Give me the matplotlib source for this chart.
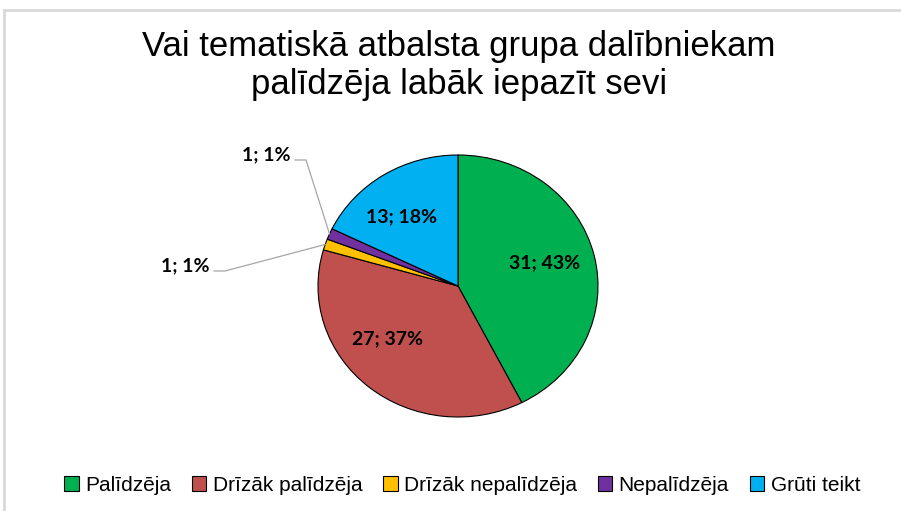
import matplotlib
matplotlib.use("Agg")
import matplotlib.pyplot as plt
from matplotlib.patches import Patch
from matplotlib.lines import Line2D
import numpy as np

# ---- data ----
title_lines = ["Vai tematiskā atbalsta grupa dalībniekam", "palīdzēja labāk iepazīt sevi"]
categories = ["Palīdzēja", "Drīzāk palīdzēja", "Drīzāk nepalīdzēja", "Nepalīdzēja", "Grūti teikt"]
values = [31, 27, 1, 1, 13]
percents = [43, 37, 1, 1, 18]
colors = ["#00B050", "#C0504D", "#FFC000", "#7030A0", "#00B0F0"]

W, H = 901, 511
fig = plt.figure(figsize=(W / 100, H / 100), dpi=100)
fig.patch.set_facecolor("white")

# frame lines (top and left of chart area, as in the cropped reference)
fig.add_artist(Line2D([4 / W, 1.0], [1 - 10 / H, 1 - 10 / H], transform=fig.transFigure,
                      color="#D9D9D9", lw=2.0))
fig.add_artist(Line2D([4 / W, 4 / W], [0, 1 - 10 / H], transform=fig.transFigure,
                      color="#D9D9D9", lw=2.0))

# pie axes (elliptical as in the reference)
cx, cy, rx, ry = 458, 286, 140, 131
ax = fig.add_axes([(cx - rx) / W, (H - cy - ry) / H, 2 * rx / W, 2 * ry / H])
wedges, _ = ax.pie(values, colors=colors, startangle=90, counterclock=False,
                   wedgeprops=dict(edgecolor="black", linewidth=0.8))
ax.set_aspect("auto")
ax.set_xlim(-1, 1)
ax.set_ylim(-1, 1)
ax.axis("off")

labels = [f"{v}; {p}%" for v, p in zip(values, percents)]
lab_font = dict(family="Lato", weight="bold", fontsize=14, color="black")

# inside labels (positions in axes data units)
inside_pos = {0: (0.62, 0.175), 1: (-0.507, -0.405), 4: (-0.40, 0.53)}
for i, (x, y) in inside_pos.items():
    ax.text(x, y, labels[i], ha="center", va="center", **lab_font)

# outside labels with leader lines
outside = {3: ((266 - cx) / rx, (cy - 155) / ry), 2: ((185 - cx) / rx, (cy - 266) / ry)}
for i, (tx, ty) in outside.items():
    w = wedges[i]
    mid = np.deg2rad((w.theta1 + w.theta2) / 2)
    ex, ey = np.cos(mid), np.sin(mid)
    ax.text(tx, ty, labels[i], ha="center", va="center", clip_on=False, **lab_font)
    # leader: horizontal stub then line to wedge edge
    sx = tx + 29 / rx
    sy = ty - 5 / ry
    kx = sx + 11 / rx
    ax.plot([sx, kx, ex], [sy, sy, ey], color="#A6A6A6", lw=0.9, clip_on=False)

# title (two lines, baselines as in reference)
tx_c = 0.5 * (140 + 778) / W
for line, base in zip(title_lines, [56, 94]):
    fig.text(tx_c, 1 - base / H, line, ha="center", va="baseline",
             fontsize=25, family="Liberation Sans", color="black")

# legend
handles = [Patch(facecolor=c, edgecolor="black", linewidth=0.8) for c in colors]
leg = fig.legend(handles, categories, loc="center", bbox_to_anchor=(462 / W, 1 - 485 / H),
                 ncol=5, frameon=False, handlelength=0.7, handleheight=0.7,
                 handletextpad=0.3, columnspacing=1.0,
                 prop=dict(family="Liberation Sans", size=15))

fig.savefig("out.png", dpi=100)
